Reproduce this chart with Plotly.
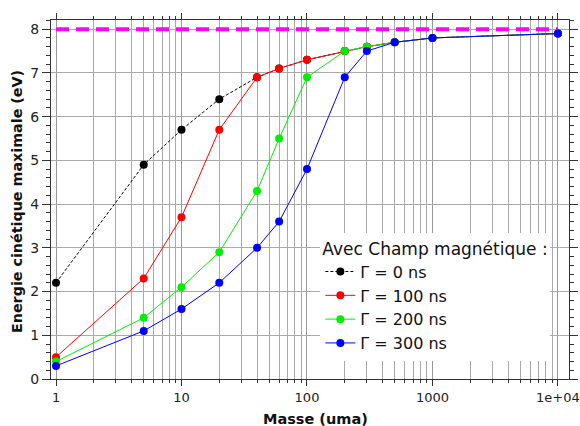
import plotly.graph_objects as go

masse = [1, 5, 10, 20, 40, 60, 100, 200, 300, 500, 1000, 10000]
e_0ns = [2.2, 4.9, 5.7, 6.4, 6.9, 7.1, 7.3, 7.5, 7.6, 7.7, 7.8, 7.9]
e_100ns = [0.5, 2.3, 3.7, 5.7, 6.9, 7.1, 7.3, 7.5, 7.6, 7.7, 7.8, 7.9]
e_200ns = [0.4, 1.4, 2.1, 2.9, 4.3, 5.5, 6.9, 7.5, 7.6, 7.7, 7.8, 7.9]
e_300ns = [0.3, 1.1, 1.6, 2.2, 3.0, 3.6, 4.8, 6.9, 7.5, 7.7, 7.8, 7.9]
limite_x = [1, 10000]
limite_y = [8, 8]

x_tickvals = [1, 10, 100, 1000, 10000]
x_ticktext = ["1", "10", "100", "1000", "1e+04"]
x_minor = [m * d for d in (1, 10, 100, 1000) for m in range(2, 10)]

FONT = "DejaVu Sans"

fig = go.Figure()
fig.add_trace(go.Scatter(x=limite_x, y=limite_y, mode="lines",
                         line=dict(color="#ff00ff", width=4, dash="13px,7px"),
                         showlegend=False, hoverinfo="skip"))

series = [
    ("Γ = 0 ns", e_0ns, "#000000", "3px,2px"),
    ("Γ = 100 ns", e_100ns, "#ff0000", "solid"),
    ("Γ = 200 ns", e_200ns, "#00ee00", "solid"),
    ("Γ = 300 ns", e_300ns, "#0000ff", "solid"),
]
for name, ys, col, dash in series:
    fig.add_trace(go.Scatter(x=masse, y=ys, name=name, mode="lines+markers",
                             line=dict(color=col, width=1, dash=dash),
                             marker=dict(color=col, size=8, symbol="circle")))

fig.update_layout(
    width=580, height=426,
    margin=dict(l=51, r=11, t=20, b=47, autoexpand=False),
    paper_bgcolor="white", plot_bgcolor="white",
    font=dict(family=FONT, size=13, color="#222222"),
    legend=dict(
        title=dict(text="Avec Champ magnétique :", font=dict(size=17, family=FONT, color="#111111")),
        font=dict(size=16, family=FONT, color="#111111"),
        x=0.52, y=0.408, xanchor="left", yanchor="top",
        bgcolor="white", borderwidth=0, itemwidth=30,
    ),
    annotations=[
        dict(text="<b>Masse (uma)</b>", x=0.51, y=-0.111, xref="paper", yref="paper",
             xanchor="center", yanchor="middle", showarrow=False,
             font=dict(size=14.5, family=FONT, color="#111111")),
        dict(text="<b>Energie cinétique maximale (eV)</b>", x=-0.0656, y=0.493,
             xref="paper", yref="paper", textangle=-90,
             xanchor="center", yanchor="middle", showarrow=False,
             font=dict(size=14.3, family=FONT, color="#111111")),
    ],
)

fig.update_xaxes(
    type="log", range=[-0.04, 4.088], automargin=False,
    tickmode="array", tickvals=x_tickvals, ticktext=x_ticktext,
    ticks="outside", ticklen=6, tickcolor="#333333", tickwidth=1,
    showline=True, linecolor="#333333", linewidth=1, mirror="allticks",
    showgrid=True, gridcolor="#999999", gridwidth=1,
    minor=dict(tickmode="array", tickvals=x_minor, ticks="outside", ticklen=3,
               tickcolor="#333333", showgrid=True, gridcolor="#aaaaaa", gridwidth=1),
    zeroline=False, tickfont=dict(size=13, family=FONT, color="#222222"),
)
fig.update_yaxes(
    range=[0, 8.21], tickmode="linear", tick0=0, dtick=1, automargin=False,
    ticks="outside", ticklen=8, tickcolor="#333333", tickwidth=1,
    showline=True, linecolor="#333333", linewidth=1, mirror="allticks",
    showgrid=True, gridcolor="#aaaaaa", gridwidth=1,
    minor=dict(dtick=0.2, tick0=0, ticks="outside", ticklen=4, tickcolor="#333333", showgrid=False),
    zeroline=False, tickfont=dict(size=14, family=FONT, color="#222222"),
)

fig.write_html("out.html", config={"displayModeBar": False})

# remove the default page margin so the figure fills the window exactly
with open("out.html", encoding="utf-8") as f:
    html = f.read()
html = html.replace("<head>", "<head><style>html,body{margin:0;padding:0;overflow:hidden;}</style>", 1)
with open("out.html", "w", encoding="utf-8") as f:
    f.write(html)
